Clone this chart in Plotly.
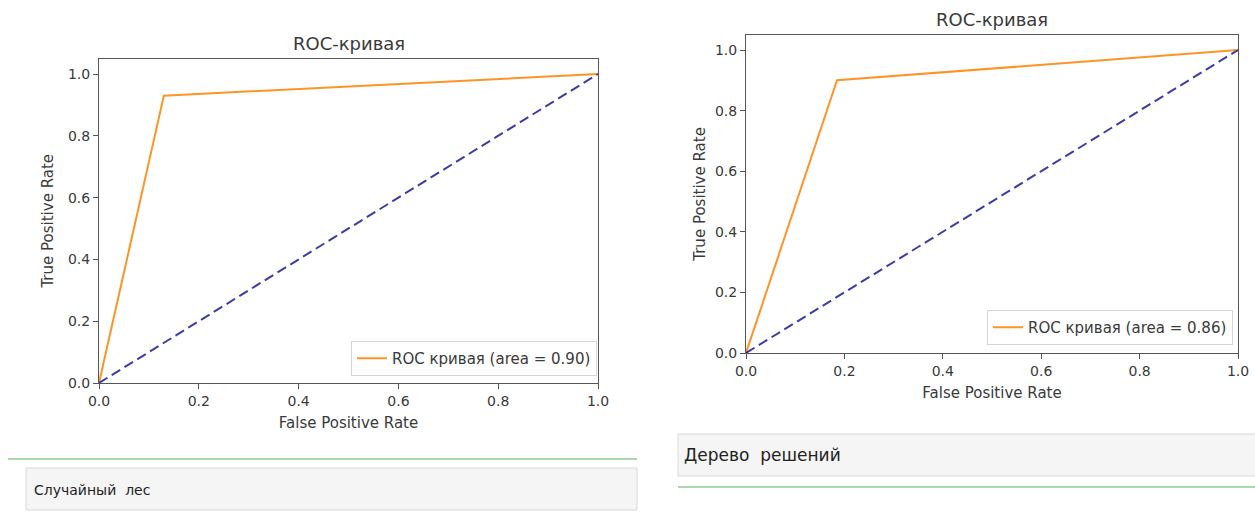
import plotly.graph_objects as go

# ---- data ----
fpr_forest = [0.0, 0.13, 1.0]
tpr_forest = [0.0, 0.93, 1.0]
auc_forest = 0.90

fpr_tree = [0.0, 0.185, 1.0]
tpr_tree = [0.0, 0.90, 1.0]
auc_tree = 0.86

diag_x = [0.0, 1.0]
diag_y = [0.0, 1.0]

tick_vals = [0.0, 0.2, 0.4, 0.6, 0.8, 1.0]
tick_text = ["0.0", "0.2", "0.4", "0.6", "0.8", "1.0"]

chart_title = "ROC-кривая"
legend_label = "ROC кривая (area = {:.2f})"
x_label = "False Positive Rate"
y_label = "True Positive Rate"
caption_left = "Случайный  лес"
caption_right = "Дерево  решений"

W, H = 1255, 515
ORANGE = "#ff9326"
NAVY = "#3c3ca8"
TXT = "#3a3a3a"
SPINE = "#555555"


def px_x(p):
    return p / W


def px_y(p):
    return (H - p) / H


fig = go.Figure()

fig.add_trace(go.Scatter(x=fpr_forest, y=tpr_forest, mode="lines",
                         line=dict(color=ORANGE, width=2),
                         name=legend_label.format(auc_forest),
                         xaxis="x", yaxis="y", legend="legend"))
fig.add_trace(go.Scatter(x=diag_x, y=diag_y, mode="lines",
                         line=dict(color=NAVY, width=2, dash="10px,5px"),
                         showlegend=False, xaxis="x", yaxis="y"))
fig.add_trace(go.Scatter(x=fpr_tree, y=tpr_tree, mode="lines",
                         line=dict(color=ORANGE, width=2),
                         name=legend_label.format(auc_tree),
                         xaxis="x2", yaxis="y2", legend="legend2"))
fig.add_trace(go.Scatter(x=diag_x, y=diag_y, mode="lines",
                         line=dict(color=NAVY, width=2, dash="10px,5px"),
                         showlegend=False, xaxis="x2", yaxis="y2"))

tick_font = dict(family="DejaVu Sans", size=14, color=TXT)
label_font = dict(family="DejaVu Sans", size=15, color=TXT)

axis_common = dict(showgrid=False, zeroline=False, showline=True, mirror=True,
                   linecolor=SPINE, linewidth=1, ticks="outside", ticklen=5,
                   tickcolor=SPINE, tickvals=tick_vals, ticktext=tick_text,
                   tickfont=tick_font, automargin=False)

# left panel
L_x0, L_x1 = 99, 598
L_yb = 383
L_unit = 309
L_top = L_yb - 1.05 * L_unit
# right panel
R_x0, R_x1 = 746, 1238
R_yb = 353
R_unit = 303
R_top = R_yb - 1.05 * R_unit

fig.update_layout(
    width=W, height=H,
    margin=dict(l=0, r=0, t=0, b=0, autoexpand=False),
    paper_bgcolor="white", plot_bgcolor="white",
    font=label_font,
    xaxis=dict(axis_common, domain=[px_x(L_x0), px_x(L_x1)], range=[0, 1],
               anchor="y",
               title=dict(text=x_label, font=label_font, standoff=9)),
    yaxis=dict(axis_common, domain=[px_y(L_yb), px_y(L_top)], range=[0, 1.05],
               anchor="x",
               title=dict(text=y_label, font=label_font, standoff=10)),
    xaxis2=dict(axis_common, domain=[px_x(R_x0), px_x(R_x1)], range=[0, 1],
                anchor="y2",
                title=dict(text=x_label, font=label_font, standoff=9)),
    yaxis2=dict(axis_common, domain=[px_y(R_yb), px_y(R_top)], range=[0, 1.05],
                anchor="x2",
                title=dict(text=y_label, font=label_font, standoff=5)),
    legend=dict(x=px_x(597), y=px_y(376), xanchor="right", yanchor="bottom",
                bgcolor="rgba(255,255,255,0.9)", bordercolor="#d6d6d6",
                borderwidth=1, font=label_font, itemwidth=30),
    legend2=dict(x=px_x(1233), y=px_y(345), xanchor="right", yanchor="bottom",
                 bgcolor="rgba(255,255,255,0.9)", bordercolor="#d6d6d6",
                 borderwidth=1, font=label_font, itemwidth=30),
)

title_font = dict(family="DejaVu Sans", size=18, color=TXT)
fig.add_annotation(text=chart_title, x=px_x((L_x0 + L_x1) / 2), y=px_y(43),
                   xref="paper", yref="paper", showarrow=False,
                   xanchor="center", yanchor="middle", font=title_font)
fig.add_annotation(text=chart_title, x=px_x((R_x0 + R_x1) / 2), y=px_y(20),
                   xref="paper", yref="paper", showarrow=False,
                   xanchor="center", yanchor="middle", font=title_font)

# notebook-like caption cells below
GREEN = "#a9d8a9"
CELL_FILL = "#f5f5f5"
CELL_LINE = "#d9d9d9"
fig.add_shape(type="line", xref="paper", yref="paper",
              x0=px_x(8), x1=px_x(637), y0=px_y(459), y1=px_y(459),
              line=dict(color=GREEN, width=2))
fig.add_shape(type="rect", xref="paper", yref="paper",
              x0=px_x(26), x1=px_x(637), y0=px_y(510), y1=px_y(468),
              fillcolor=CELL_FILL, line=dict(color=CELL_LINE, width=1))
fig.add_annotation(text=caption_left, x=px_x(32), y=px_y(490),
                   xref="paper", yref="paper", showarrow=False,
                   xanchor="left", yanchor="middle",
                   font=dict(family="DejaVu Sans", size=14, color="#222"))
fig.add_shape(type="rect", xref="paper", yref="paper",
              x0=px_x(678), x1=px_x(1256), y0=px_y(476), y1=px_y(434),
              fillcolor=CELL_FILL, line=dict(color=CELL_LINE, width=1))
fig.add_shape(type="line", xref="paper", yref="paper",
              x0=px_x(678), x1=px_x(1255), y0=px_y(487), y1=px_y(487),
              line=dict(color=GREEN, width=2))
fig.add_annotation(text=caption_right, x=px_x(682), y=px_y(455),
                   xref="paper", yref="paper", showarrow=False,
                   xanchor="left", yanchor="middle",
                   font=dict(family="DejaVu Sans", size=17, color="#222"))

fig.write_html("out.html", config={"displayModeBar": False},
               post_script="document.body.style.margin='0';")
